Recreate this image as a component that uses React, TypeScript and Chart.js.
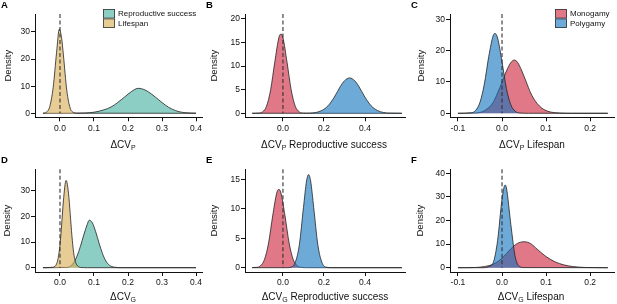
import React, { useEffect, useRef } from "react";
import { Chart, registerables } from "chart.js";

Chart.register(...registerables);

const FONT = "'Liberation Sans', Arial, Helvetica, sans-serif";

// ---------- labels ----------
const repLabel = "Reproductive success";
const lifeLabel = "Lifespan";
const monoLabel = "Monogamy";
const polyLabel = "Polygamy";

// ---------- tick values ----------
const xTicksAD = [0, 0.1, 0.2, 0.3, 0.4];
const xTicksBE = [0, 0.2, 0.4];
const xTicksCF = [-0.1, 0, 0.1, 0.2];
const yTicksA = [0, 10, 20, 30];
const yTicksB = [0, 5, 10, 15, 20];
const yTicksC = [0, 10, 20, 30];
const yTicksD = [0, 10, 20, 30];
const yTicksE = [0, 5, 10, 15];
const yTicksF = [0, 10, 20, 30, 40];

// ---------- panel A: ΔCV_P ----------
const aRepX = [-0.05, 0.05, 0.1, 0.13, 0.15, 0.17, 0.19, 0.21, 0.23, 0.25, 0.27, 0.29, 0.31, 0.33, 0.35, 0.37, 0.4];
const aRepY = [0, 0.05, 0.4, 1.3, 2.3, 4.0, 6.0, 8.0, 9.2, 8.6, 7.0, 5.0, 3.0, 1.5, 0.6, 0.2, 0.05];
const aLifeX = [-0.05, -0.04, -0.03, -0.02, -0.01, -0.002, 0.005, 0.01, 0.02, 0.03, 0.04, 0.05, 0.4];
const aLifeY = [0, 0.4, 2.5, 9.6, 22.5, 31, 27.5, 21.5, 8.4, 1.9, 0.3, 0.03, 0];

// ---------- panel B: ΔCV_P reproductive success ----------
const bMonoX = [-0.15, -0.12, -0.1, -0.08, -0.06, -0.04, -0.02, -0.01, 0, 0.02, 0.04, 0.06, 0.08, 0.1, 0.13, 0.58];
const bMonoY = [0, 0.05, 0.3, 1.5, 5.0, 10.8, 16.0, 16.8, 16.0, 10.8, 5.0, 1.5, 0.3, 0.05, 0, 0];
const bPolyX = [-0.15, 0.1, 0.13, 0.16, 0.19, 0.22, 0.25, 0.28, 0.3, 0.325, 0.35, 0.37, 0.4, 0.43, 0.46, 0.49, 0.52, 0.58];
const bPolyY = [0, 0, 0.04, 0.17, 0.6, 1.6, 3.4, 5.7, 6.9, 7.5, 6.9, 5.7, 3.4, 1.6, 0.6, 0.17, 0.04, 0];

// ---------- panel C: ΔCV_P lifespan ----------
const cMonoX = [-0.1, -0.06, -0.04, -0.02, -0.01, 0, 0.01, 0.02, 0.028, 0.035, 0.045, 0.055, 0.065, 0.075, 0.085, 0.095, 0.11, 0.13, 0.16, 0.24];
const cMonoY = [0, 0.1, 0.8, 3.5, 6.5, 10, 13.5, 16.2, 17, 16.3, 13.5, 10, 6.5, 4, 2.3, 1.2, 0.4, 0.1, 0, 0];
const cPolyX = [-0.1, -0.07, -0.06, -0.05, -0.04, -0.03, -0.02, -0.016, -0.01, 0, 0.01, 0.02, 0.03, 0.04, 0.06, 0.24];
const cPolyY = [0, 0.16, 0.9, 3.5, 9.4, 18.2, 24.8, 25.5, 24, 16.4, 7.9, 2.7, 0.66, 0.1, 0, 0];

// ---------- panel D: ΔCV_G ----------
const dRepX = [-0.05, 0.02, 0.03, 0.04, 0.05, 0.06, 0.07, 0.08, 0.086, 0.095, 0.105, 0.115, 0.125, 0.135, 0.145, 0.16, 0.18, 0.4];
const dRepY = [0, 0.1, 0.5, 1.9, 4.5, 8.3, 12.8, 16.8, 18.5, 17.5, 14, 9.5, 5.5, 2.6, 1.0, 0.2, 0, 0];
const dLifeX = [-0.05, -0.02, -0.01, -0.005, 0, 0.005, 0.01, 0.018, 0.025, 0.03, 0.035, 0.04, 0.045, 0.05, 0.06, 0.08, 0.4];
const dLifeY = [0, 0.2, 1.5, 4, 9, 17, 26, 34, 29, 21, 12.5, 6, 2.5, 1, 0.1, 0, 0];

// ---------- panel E: ΔCV_G reproductive success ----------
const eMonoX = [-0.15, -0.13, -0.11, -0.09, -0.07, -0.05, -0.03, -0.02, -0.01, 0.01, 0.03, 0.05, 0.07, 0.09, 0.12, 0.58];
const eMonoY = [0.02, 0.05, 0.3, 1.4, 4.2, 8.8, 12.7, 13.3, 12.7, 8.8, 4.2, 1.4, 0.3, 0.05, 0, 0];
const ePolyX = [-0.15, 0.02, 0.04, 0.06, 0.08, 0.1, 0.115, 0.125, 0.135, 0.15, 0.17, 0.19, 0.21, 0.24, 0.58];
const ePolyY = [0, 0, 0.1, 0.9, 3.9, 10.2, 14.7, 15.8, 14.7, 10.2, 3.9, 0.9, 0.1, 0, 0];

// ---------- panel F: ΔCV_G lifespan ----------
const fMonoX = [-0.1, -0.06, -0.04, -0.02, 0, 0.02, 0.035, 0.05, 0.065, 0.08, 0.1, 0.12, 0.14, 0.16, 0.19, 0.24];
const fMonoY = [0, 0.1, 0.5, 1.5, 4, 8, 10.3, 11, 10.2, 7.8, 4.7, 2.5, 1.2, 0.5, 0.1, 0];
const fPolyX = [-0.1, -0.04, -0.03, -0.02, -0.01, 0, 0.007, 0.01, 0.02, 0.03, 0.04, 0.05, 0.24];
const fPolyY = [0, 0, 0.5, 2.1, 11.5, 29, 35, 33.8, 18.3, 4.5, 0.5, 0.05, 0];

// ---------- colours ----------
const TEAL = "rgba(63,173,155,0.6)";
const TAN = "rgba(217,170,80,0.6)";
const RED = "rgba(205,30,55,0.6)";
const BLUE = "rgba(13,113,188,0.6)";

type Series = { label: string; xs: number[]; ys: number[]; color: string };
type Panel = {
  letter: string;
  left: number;
  top: number;
  width: number;
  height: number;
  area: { l: number; t: number; r: number; b: number };
  xMin: number;
  xMax: number;
  yMin: number;
  yMax: number;
  xTicks: number[];
  yTicks: number[];
  yTitlePad: number;
  sub: string;
  rest: string;
  titleCx: number;
  titleCy: number;
  letterCy: number;
  series: Series[];
  legendX?: number;
};

const panels: Panel[] = [
  {
    letter: "A", left: 0, top: 0, width: 205, height: 150,
    area: { l: 35, t: 14, r: 202, b: 117.3 },
    xMin: -0.0735, xMax: 0.4176, yMin: -1.48, yMax: 36.6,
    xTicks: xTicksAD, yTicks: yTicksA, yTitlePad: 2.3,
    sub: "P", rest: "", titleCx: 123, titleCy: 144.5, letterCy: 5,
    series: [
      { label: repLabel, xs: aRepX, ys: aRepY, color: TEAL },
      { label: lifeLabel, xs: aLifeX, ys: aLifeY, color: TAN },
    ],
    legendX: 103,
  },
  {
    letter: "B", left: 205, top: 0, width: 205, height: 150,
    area: { l: 40, t: 14, r: 200, b: 117.3 },
    xMin: -0.185, xMax: 0.595, yMin: -0.85, yMax: 21.06,
    xTicks: xTicksBE, yTicks: yTicksB, yTitlePad: 3.3,
    sub: "P", rest: " Reproductive success", titleCx: 119, titleCy: 144.5, letterCy: 5,
    series: [
      { label: monoLabel, xs: bMonoX, ys: bMonoY, color: RED },
      { label: polyLabel, xs: bPolyX, ys: bPolyY, color: BLUE },
    ],
  },
  {
    letter: "C", left: 410, top: 0, width: 207, height: 150,
    area: { l: 40, t: 14, r: 204, b: 117.3 },
    xMin: -0.118, xMax: 0.254, yMin: -1.28, yMax: 31.7,
    xTicks: xTicksCF, yTicks: yTicksC, yTitlePad: 5.3,
    sub: "P", rest: " Lifespan", titleCx: 122, titleCy: 144.5, letterCy: 5,
    series: [
      { label: monoLabel, xs: cMonoX, ys: cMonoY, color: RED },
      { label: polyLabel, xs: cPolyX, ys: cPolyY, color: BLUE },
    ],
    legendX: 145,
  },
  {
    letter: "D", left: 0, top: 150, width: 205, height: 154,
    area: { l: 35, t: 19.3, r: 202, b: 122 },
    xMin: -0.0735, xMax: 0.4176, yMin: -1.675, yMax: 38.33,
    xTicks: xTicksAD, yTicks: yTicksD, yTitlePad: 1.3,
    sub: "G", rest: "", titleCx: 123, titleCy: 146.5, letterCy: 10.7,
    series: [
      { label: repLabel, xs: dRepX, ys: dRepY, color: TEAL },
      { label: lifeLabel, xs: dLifeX, ys: dLifeY, color: TAN },
    ],
  },
  {
    letter: "E", left: 205, top: 150, width: 205, height: 154,
    area: { l: 40, t: 19.3, r: 200, b: 122 },
    xMin: -0.185, xMax: 0.595, yMin: -0.73, yMax: 16.7,
    xTicks: xTicksBE, yTicks: yTicksE, yTitlePad: 3.3,
    sub: "G", rest: " Reproductive success", titleCx: 120, titleCy: 146.5, letterCy: 10.7,
    series: [
      { label: monoLabel, xs: eMonoX, ys: eMonoY, color: RED },
      { label: polyLabel, xs: ePolyX, ys: ePolyY, color: BLUE },
    ],
  },
  {
    letter: "F", left: 410, top: 150, width: 207, height: 154,
    area: { l: 40, t: 19.3, r: 204, b: 122 },
    xMin: -0.118, xMax: 0.254, yMin: -1.82, yMax: 41.7,
    xTicks: xTicksCF, yTicks: yTicksF, yTitlePad: 4.3,
    sub: "G", rest: " Lifespan", titleCx: 121, titleCy: 146.5, letterCy: 10.7,
    series: [
      { label: monoLabel, xs: fMonoX, ys: fMonoY, color: RED },
      { label: polyLabel, xs: fPolyX, ys: fPolyY, color: BLUE },
    ],
  },
];

function makeConfig(p: Panel): any {
  const decor = {
    id: "decor" + p.letter,
    afterDatasetsDraw(chart: any) {
      const { ctx, chartArea, scales } = chart;
      const x0 = scales.x.getPixelForValue(0);
      const yb = scales.y.getPixelForValue(0);
      ctx.save();
      ctx.setLineDash([4, 2.5]);
      ctx.strokeStyle = "#333";
      ctx.lineWidth = 1.1;
      ctx.beginPath();
      ctx.moveTo(x0, chartArea.top);
      ctx.lineTo(x0, yb);
      ctx.stroke();
      ctx.restore();
    },
    afterDraw(chart: any) {
      const { ctx } = chart;
      ctx.save();
      // panel letter
      ctx.fillStyle = "#000";
      ctx.font = `bold 9.5px ${FONT}`;
      ctx.textAlign = "left";
      ctx.textBaseline = "middle";
      ctx.fillText(p.letter, 1, p.letterCy);

      // x title with subscript
      const main = "\u0394CV";
      ctx.font = `10px ${FONT}`;
      const wMain = ctx.measureText(main).width;
      const wRest = ctx.measureText(p.rest).width;
      ctx.font = `7px ${FONT}`;
      const wSub = ctx.measureText(p.sub).width;
      let x = p.titleCx - (wMain + wSub + wRest) / 2;
      const base = p.titleCy + 3.5;
      ctx.textBaseline = "alphabetic";
      ctx.fillStyle = "#111";
      ctx.font = `10px ${FONT}`;
      ctx.fillText(main, x, base);
      x += wMain;
      ctx.font = `7px ${FONT}`;
      ctx.fillText(p.sub, x, base + 2.2);
      x += wSub;
      ctx.font = `10px ${FONT}`;
      ctx.fillText(p.rest, x, base);

      // legend
      if (p.legendX !== undefined) {
        const bw = 12;
        const bh = 9.5;
        let by = 9;
        ctx.font = `8px ${FONT}`;
        ctx.textBaseline = "middle";
        p.series.forEach((s) => {
          ctx.fillStyle = "#fff";
          ctx.fillRect(p.legendX!, by, bw, bh);
          ctx.fillStyle = s.color;
          ctx.fillRect(p.legendX!, by, bw, bh);
          ctx.strokeStyle = "#333";
          ctx.lineWidth = 0.8;
          ctx.strokeRect(p.legendX! + 0.4, by + 0.4, bw - 0.8, bh - 0.8);
          ctx.fillStyle = "#111";
          ctx.fillText(s.label, p.legendX! + bw + 3, by + bh / 2 + 0.3);
          by += bh;
        });
      }
      ctx.restore();
    },
  };

  const n = p.series.length;
  return {
    type: "line",
    data: {
      datasets: p.series.map((s, i) => ({
        label: s.label,
        data: s.xs.map((xv, j) => ({ x: xv, y: s.ys[j] })),
        backgroundColor: s.color,
        borderColor: "#222",
        borderWidth: 0.8,
        fill: "origin",
        pointRadius: 0,
        tension: 0.4,
        cubicInterpolationMode: "monotone",
        order: n - 1 - i,
      })),
    },
    options: {
      responsive: false,
      animation: false,
      devicePixelRatio: 1,
      events: [],
      layout: {
        padding: { left: 0, top: p.area.t, right: p.width - p.area.r, bottom: 0 },
      },
      plugins: {
        legend: { display: false },
        tooltip: { enabled: false },
        title: { display: false },
      },
      scales: {
        x: {
          type: "linear",
          min: p.xMin,
          max: p.xMax,
          afterBuildTicks: (s: any) => {
            s.ticks = p.xTicks.map((v) => ({ value: v }));
          },
          afterFit: (s: any) => {
            s.height = p.height - p.area.b;
            s.paddingLeft = 0;
            s.paddingRight = 0;
          },
          ticks: {
            font: { family: FONT, size: 8.5 },
            color: "#111",
            padding: 2,
            maxRotation: 0,
            autoSkip: false,
            callback: (v: number) => (Math.abs(v) < 1e-9 ? "0.0" : v.toFixed(1)),
          },
          grid: { drawOnChartArea: false, drawTicks: true, tickLength: 4, color: "#111", lineWidth: 1 },
          border: { display: true, color: "#111", width: 1 },
        },
        y: {
          type: "linear",
          min: p.yMin,
          max: p.yMax,
          afterBuildTicks: (s: any) => {
            s.ticks = p.yTicks.map((v) => ({ value: v }));
          },
          afterFit: (s: any) => {
            s.width = p.area.l;
            s.paddingTop = 0;
            s.paddingBottom = 0;
          },
          ticks: {
            font: { family: FONT, size: 8.5 },
            color: "#111",
            padding: 1,
            autoSkip: false,
            callback: (v: number) => String(v),
          },
          grid: { drawOnChartArea: false, drawTicks: true, tickLength: 4, color: "#111", lineWidth: 1 },
          border: { display: true, color: "#111", width: 1 },
          title: {
            display: true,
            text: "Density",
            color: "#111",
            font: { family: FONT, size: 9.5 },
            padding: { top: p.yTitlePad, bottom: 0 },
          },
        },
      },
    },
    plugins: [decor],
  };
}

function PanelChart({ p }: { p: Panel }) {
  const ref = useRef<HTMLCanvasElement>(null);
  useEffect(() => {
    if (!ref.current) return;
    const chart = new Chart(ref.current, makeConfig(p));
    return () => chart.destroy();
  }, [p]);
  return (
    <canvas
      ref={ref}
      width={p.width}
      height={p.height}
      style={{ position: "absolute", left: p.left, top: p.top, width: p.width, height: p.height }}
    />
  );
}

export default function App() {
  return (
    <div
      style={{
        position: "fixed",
        left: 0,
        top: 0,
        width: 617,
        height: 304,
        background: "#fff",
        overflow: "hidden",
      }}
    >
      {panels.map((p) => (
        <PanelChart key={p.letter} p={p} />
      ))}
    </div>
  );
}
